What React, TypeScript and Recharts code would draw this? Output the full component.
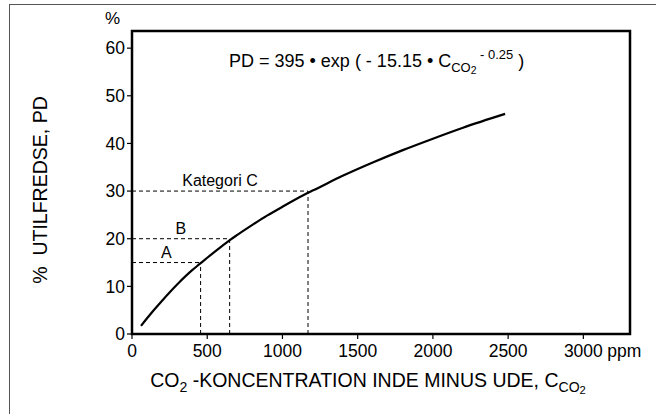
import React from 'react';
import {
  LineChart, Line, XAxis, YAxis, ReferenceLine, ReferenceArea, Label
} from 'recharts';

// CO2 concentration (ppm, inside minus outside) and % dissatisfied
const ppm = [60, 100, 150, 200, 300, 400, 450, 500, 600, 650, 700, 800, 900, 1000, 1160, 1200, 1400, 1600, 1800, 2000, 2200, 2480];
const pd = [1.7, 3.3, 5.2, 7.0, 10.4, 13.4, 14.7, 16.0, 18.5, 19.7, 20.8, 22.9, 24.9, 26.7, 29.5, 30.1, 33.2, 36.0, 38.6, 41.0, 43.3, 46.2];

const xTicks = [0, 500, 1000, 1500, 2000, 2500, 3000];
const yTicks = [0, 10, 20, 30, 40, 50, 60];

// category limits: label, PD level, CO2 level
const categories = [
  { name: 'A', pd: 15, ppm: 456 },
  { name: 'B', pd: 20, ppm: 649 },
  { name: 'Kategori  C', pd: 30, ppm: 1170 },
];

const data = ppm.map((x, i) => ({ x, pd: pd[i] }));

const FONT = '"Liberation Sans", Arial, Helvetica, sans-serif';

const XTick = (props: any) => {
  const { x, y, payload } = props;
  return (
    <g>
      <text x={x} y={y + 16} textAnchor="middle" fontSize={17.5} fill="#000" fontFamily={FONT}>
        {payload.value}
      </text>
      {payload.value === 3000 && (
        <text x={x + 24} y={y + 16} textAnchor="start" fontSize={17.5} fill="#000" fontFamily={FONT}>
          ppm
        </text>
      )}
    </g>
  );
};

const sub: React.CSSProperties = { fontSize: '0.72em', position: 'relative', top: '0.35em' };

export default function App() {
  return (
    <div style={{ position: 'absolute', left: 0, top: 0, width: 656, height: 414, overflow: 'hidden', background: '#fff', fontFamily: FONT }}>
      <div style={{ position: 'absolute', left: 9, top: 4, width: 800, height: 600, borderLeft: '1.5px solid #555', borderTop: '1.5px solid #555' }} />
      <LineChart
        width={656}
        height={414}
        data={data}
        margin={{ top: 31, right: 26, bottom: 50, left: 92 }}
        style={{ position: 'absolute', left: 0, top: 0 }}
      >
        <XAxis
          dataKey="x"
          type="number"
          domain={[0, 3310]}
          ticks={xTicks}
          tick={<XTick />}
          tickSize={5}
          height={30}
          axisLine={false}
          tickLine={{ stroke: '#000', strokeWidth: 1.2 }}
          allowDataOverflow
        />
        <YAxis
          type="number"
          domain={[0, 63.6]}
          ticks={yTicks}
          width={40}
          tickSize={5}
          axisLine={false}
          tickLine={{ stroke: '#000', strokeWidth: 1.2 }}
          tick={{ fill: '#000', fontSize: 17.5, fontFamily: FONT }}
          allowDataOverflow
        />
        {categories.map((c) => (
          <ReferenceLine
            key={'h' + c.name}
            segment={[{ x: 0, y: c.pd }, { x: c.ppm, y: c.pd }]}
            stroke="#000"
            strokeWidth={1}
            strokeDasharray="4 3"
            ifOverflow="visible"
          >
            <Label value={c.name} position="top" offset={5} fontSize={16} fill="#000" fontFamily={FONT} />
          </ReferenceLine>
        ))}
        {categories.map((c) => (
          <ReferenceLine
            key={'v' + c.name}
            segment={[{ x: c.ppm, y: 0 }, { x: c.ppm, y: c.pd }]}
            stroke="#000"
            strokeWidth={1}
            strokeDasharray="4 3"
            ifOverflow="visible"
          />
        ))}
        <Line
          dataKey="pd"
          type="monotone"
          stroke="#000"
          strokeWidth={2.2}
          dot={false}
          isAnimationActive={false}
        />
        <ReferenceArea
          x1={0}
          x2={3310}
          y1={0}
          y2={63.6}
          fill="none"
          stroke="#000"
          strokeWidth={2.5}
          ifOverflow="visible"
        />
      </LineChart>
      <div style={{ position: 'absolute', left: 105, top: 9, fontSize: 17 }}>%</div>
      <div style={{ position: 'absolute', left: 229, top: 51, fontSize: 18, whiteSpace: 'nowrap' }}>
        PD = 395 • exp ( - 15.15 • C<span style={sub}>CO<span style={{ fontSize: '0.8em', position: 'relative', top: '0.2em' }}>2</span></span>
        <span style={{ fontSize: '0.72em', position: 'relative', top: '-0.6em' }}> - 0.25</span> )
      </div>
      <div style={{ position: 'absolute', left: 40, top: 190, transform: 'translate(-50%, -50%) rotate(-90deg)', fontSize: 19.5, whiteSpace: 'nowrap' }}>
        %&nbsp;&nbsp;UTILFREDSE, PD
      </div>
      <div style={{ position: 'absolute', left: 368, top: 369, transform: 'translateX(-50%)', fontSize: 19.5, whiteSpace: 'nowrap' }}>
        CO<span style={sub}>2</span> -KONCENTRATION INDE MINUS UDE, C<span style={sub}>CO<span style={{ fontSize: '0.8em', position: 'relative', top: '0.2em' }}>2</span></span>
      </div>
    </div>
  );
}
